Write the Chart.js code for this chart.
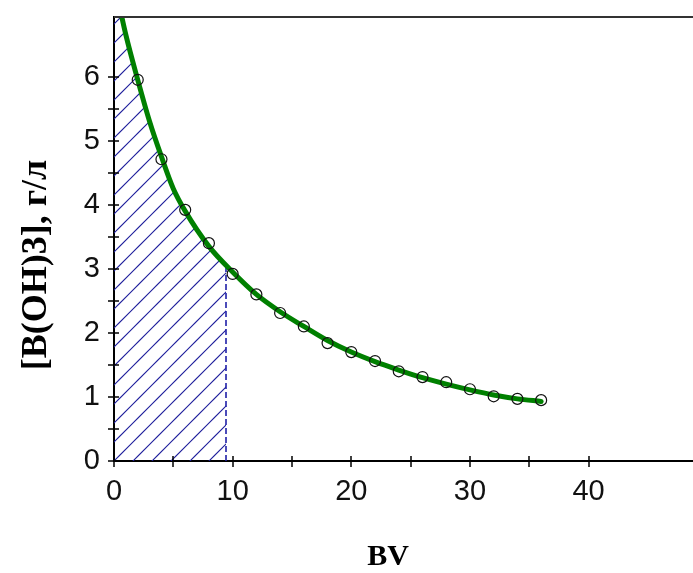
<!DOCTYPE html>
<html>
<head>
<meta charset="utf-8">
<script src="https://cdn.jsdelivr.net/npm/chart.js@4.4.1/dist/chart.umd.min.js"></script>
<style>
  html, body { margin: 0; padding: 0; background: #fff; }
</style>
</head>
<body>
<canvas id="chart" width="693" height="573"></canvas>
<script>
// measured concentrations, bed volumes 2..36
const bvPoints   = [2, 4, 6, 8, 10, 12, 14, 16, 18, 20, 22, 24, 26, 28, 30, 32, 34, 36];
const concPoints = [5.95, 4.71, 3.92, 3.40, 2.92, 2.60, 2.31, 2.10, 1.84, 1.70, 1.56, 1.40, 1.31, 1.23, 1.12, 1.01, 0.97, 0.95];

// fitted curve
const bvCurve   = [0, 1, 2, 3, 4, 5, 6, 8, 10, 12, 14, 16, 18, 20, 22, 24, 26, 28, 30, 32, 34, 36];
const concCurve = [7.5, 6.65, 5.95, 5.3, 4.75, 4.25, 3.9, 3.35, 2.95, 2.6, 2.33, 2.1, 1.88, 1.7, 1.55, 1.42, 1.3, 1.2, 1.11, 1.03, 0.97, 0.93];

// hatched interval under the curve
const bvCut = 9.44;
const concCut = 3.03;

const xTicks = [0, 10, 20, 30, 40];
const yTicks = [0, 1, 2, 3, 4, 5, 6];
const xTitle = 'BV';
const yTitle = '[B(OH)3], г/л';

const canvas = document.getElementById('chart');
const ctx = canvas.getContext('2d');

function hatchPattern() {
  const c = document.createElement('canvas');
  c.width = c.height = 19;
  const g = c.getContext('2d');
  g.strokeStyle = '#1f1f9c';
  g.lineWidth = 1.2;
  g.beginPath();
  for (const k of [5, 24]) { g.moveTo(k + 2, -2); g.lineTo(-2, k + 2); }
  g.stroke();
  return ctx.createPattern(c, 'repeat');
}

const curve = bvCurve.map((x, i) => ({ x, y: concCurve[i] }));
const hatchArea = curve.filter(p => p.x < bvCut).concat([{ x: bvCut, y: concCut }]);

// top frame line, crossing tick marks and axis titles
const frame = {
  id: 'frame',
  afterDatasetsDraw(chart) {
    const { ctx, chartArea: a, scales: { x, y } } = chart;
    ctx.save();
    ctx.strokeStyle = '#333';
    ctx.lineWidth = 2;
    ctx.beginPath();
    ctx.moveTo(a.left, a.top);
    ctx.lineTo(a.right, a.top);
    ctx.stroke();

    ctx.strokeStyle = '#000';
    ctx.lineWidth = 1.5;
    ctx.beginPath();
    x.ticks.forEach(t => {
      if (t.value % 5) return;
      const px = Math.round(x.getPixelForValue(t.value));
      ctx.moveTo(px, a.bottom - 5);
      ctx.lineTo(px, a.bottom + 6);
    });
    y.ticks.forEach(t => {
      if ((t.value * 2) % 1) return;
      const py = Math.round(y.getPixelForValue(t.value));
      ctx.moveTo(a.left - 6, py);
      ctx.lineTo(a.left + 5, py);
    });
    ctx.stroke();

    ctx.fillStyle = '#000';
    ctx.textAlign = 'center';
    ctx.textBaseline = 'middle';
    ctx.font = 'bold 30px "Liberation Serif", serif';
    ctx.fillText(xTitle, a.left + 274, a.bottom + 96);
    ctx.translate(37, a.top + 248);
    ctx.rotate(-Math.PI / 2);
    ctx.font = 'bold 36px "Liberation Serif", serif';
    ctx.fillText(yTitle, 0, 0);
    ctx.restore();
  }
};

const tickFont = { family: '"Liberation Sans Narrow", "Liberation Sans", sans-serif', size: 29 };

new Chart(ctx, {
  type: 'line',
  data: {
    datasets: [{
      data: bvPoints.map((x, i) => ({ x, y: concPoints[i] })),
      showLine: false,
      pointStyle: 'circle',
      pointRadius: 5.5,
      pointBorderColor: '#111',
      pointBorderWidth: 1.2,
      pointBackgroundColor: 'rgba(0,0,0,0)',
      order: 1
    }, {
      data: curve,
      borderColor: '#008000',
      borderWidth: 5,
      borderCapStyle: 'round',
      cubicInterpolationMode: 'monotone',
      pointRadius: 0,
      fill: false,
      order: 2
    }, {
      data: [{ x: bvCut, y: 0 }, { x: bvCut, y: concCut }],
      borderColor: '#2020a8',
      borderWidth: 1.6,
      borderDash: [6, 3],
      pointRadius: 0,
      fill: false,
      order: 3
    }, {
      data: hatchArea,
      borderWidth: 0,
      cubicInterpolationMode: 'monotone',
      pointRadius: 0,
      backgroundColor: hatchPattern(),
      fill: 'origin',
      order: 4
    }]
  },
  options: {
    responsive: false,
    animation: false,
    layout: { autoPadding: false, padding: { top: 17, left: 0, right: 0, bottom: 0 } },
    plugins: { legend: { display: false }, tooltip: { enabled: false } },
    scales: {
      x: {
        type: 'linear',
        min: 0,
        max: 48.8,
        grid: { display: false },
        border: { color: '#000', width: 2 },
        afterFit: s => { s.height = 112; s.paddingLeft = 0; s.paddingRight = 0; },
        ticks: {
          stepSize: 5,
          autoSkip: false,
          maxRotation: 0,
          padding: 6,
          color: '#111',
          font: tickFont,
          callback: v => xTicks.includes(v) ? String(v) : ''
        }
      },
      y: {
        type: 'linear',
        min: 0,
        max: 6.93,
        grid: { display: false },
        border: { color: '#000', width: 2 },
        afterFit: s => { s.width = 114; s.paddingTop = 0; s.paddingBottom = 0; },
        ticks: {
          stepSize: 0.5,
          autoSkip: false,
          padding: 6,
          color: '#111',
          font: tickFont,
          callback: v => yTicks.includes(v) ? String(v) : ''
        }
      }
    }
  },
  plugins: [frame]
});
</script>
</body>
</html>
